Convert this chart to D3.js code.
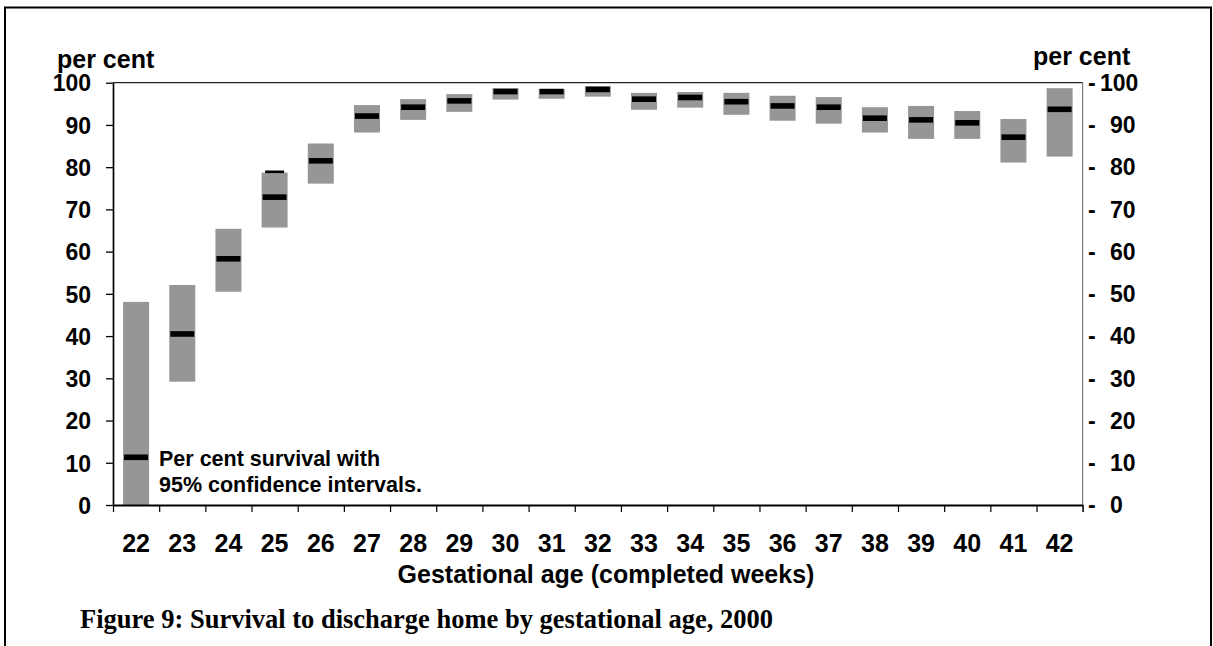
<!DOCTYPE html>
<html>
<head>
<meta charset="utf-8">
<script src="https://cdn.jsdelivr.net/npm/d3@7"></script>
<style>
  html, body { margin: 0; padding: 0; background: #fff; }
  svg { display: block; }
</style>
</head>
<body>
<svg id="chart" width="1213" height="646"></svg>
<script>
// ---- data ----
const ages = [22,23,24,25,26,27,28,29,30,31,32,33,34,35,36,37,38,39,40,41,42];
const survival = [11.3,40.5,58.3,72.9,81.5,92.1,94.2,95.7,97.9,97.9,98.4,96.1,96.5,95.5,94.5,94.2,91.6,91.2,90.5,87.1,93.7];
const lowerCI  = [0,29.2,50.5,65.7,76.1,88.2,91.2,93.1,96.0,96.2,96.7,93.6,94.1,92.4,91.0,90.3,88.2,86.7,86.7,81.1,82.5];
const upperCI  = [48.1,52.1,65.4,78.7,85.6,94.7,96.1,97.3,98.7,98.5,99.2,97.6,97.8,97.6,96.9,96.6,94.2,94.5,93.3,91.4,98.7];
const yTicks = [0,10,20,30,40,50,60,70,80,90,100];
const extraMarks = [{age:25, value:78.9}];

(function () {
const FONT = "'Liberation Sans', Arial, Helvetica, sans-serif";
const SERIF = "'Liberation Serif', 'Times New Roman', Times, serif";

const svg = d3.select('#chart');
const pLeft = 113, pRight = 1082.7, pTop = 82.7, pBottom = 505;

const x = d3.scaleBand().domain(ages).range([pLeft, pRight]).paddingInner(0.437).paddingOuter(0.2185);
const xi = d3.scaleLinear().domain([0, ages.length]).range([pLeft, pRight]);
const y = d3.scaleLinear().domain([0, 100]).range([pBottom, pTop]);

// outer frame
svg.append('rect').attr('x', 5).attr('y', 7.5).attr('width', 1206).attr('height', 660)
  .attr('fill', 'none').attr('stroke', '#000').attr('stroke-width', 2);

// bars (CI)
svg.append('g').selectAll('rect').data(ages).join('rect')
  .attr('x', d => x(d))
  .attr('width', x.bandwidth())
  .attr('y', (d,i) => y(upperCI[i]))
  .attr('height', (d,i) => y(lowerCI[i]) - y(upperCI[i]))
  .attr('fill', '#969696');

// point estimates
svg.append('g').selectAll('rect').data(ages).join('rect')
  .attr('x', d => x(d) + 1)
  .attr('width', x.bandwidth() - 2)
  .attr('y', (d,i) => y(survival[i]) - 2.8)
  .attr('height', 5.6)
  .attr('fill', '#000');

svg.append('g').selectAll('rect').data(extraMarks).join('rect')
  .attr('x', d => x(d.age) + 3.5)
  .attr('width', x.bandwidth() - 7)
  .attr('y', d => y(d.value) - 1.3)
  .attr('height', 2.6)
  .attr('fill', '#000');

// top border & right axis line
svg.append('line').attr('x1', pLeft).attr('x2', pRight).attr('y1', pTop).attr('y2', pTop)
  .attr('stroke', '#222').attr('stroke-width', 1.3);
svg.append('line').attr('x1', pRight).attr('x2', pRight).attr('y1', pTop).attr('y2', pBottom + 7)
  .attr('stroke', '#666').attr('stroke-width', 1);

// left axis
const gl = svg.append('g').attr('transform', `translate(${pLeft},0)`)
  .call(d3.axisLeft(y).tickValues(yTicks).tickSize(7).tickPadding(15).tickSizeOuter(0));
gl.select('.domain').attr('stroke', '#000').attr('stroke-width', 1.7);
gl.selectAll('.tick line').attr('stroke', '#000').attr('stroke-width', 1.3);
gl.selectAll('.tick text').attr('font-family', FONT).attr('font-size', 23).attr('font-weight', 'bold')
  .attr('fill', '#000').attr('dy', '0.36em');

// right axis labels ("- NN")
const gr = svg.append('g');
gr.selectAll('text.dash').data(yTicks).join('text').attr('class', 'dash')
  .attr('x', 1088).attr('y', d => y(d)).attr('dy', '0.36em')
  .attr('font-family', FONT).attr('font-size', 23).attr('font-weight', 'bold').text('-');
gr.selectAll('text.num').data(yTicks).join('text').attr('class', 'num')
  .attr('x', d => d >= 100 ? 1100 : 1110).attr('y', d => y(d)).attr('dy', '0.36em')
  .attr('font-family', FONT).attr('font-size', 23).attr('font-weight', 'bold').text(d => d);

// bottom axis: boundary ticks
const gb = svg.append('g').attr('transform', `translate(0,${pBottom})`)
  .call(d3.axisBottom(xi).tickValues(d3.range(0, ages.length + 1)).tickSize(7).tickFormat('').tickSizeOuter(0));
gb.select('.domain').attr('stroke', '#000').attr('stroke-width', 2);
gb.selectAll('.tick line').attr('stroke', '#000').attr('stroke-width', 1.2);

// bottom labels
const gbl = svg.append('g').attr('transform', `translate(0,${pBottom})`)
  .call(d3.axisBottom(x).tickSize(0));
gbl.select('.domain').remove();
gbl.selectAll('.tick text').attr('font-family', FONT).attr('font-size', 25).attr('font-weight', 'bold')
  .attr('fill', '#000').attr('y', 47).attr('dy', 0);

// units
svg.append('text').attr('x', 57).attr('y', 67.5).attr('font-family', FONT).attr('font-size', 25)
  .attr('font-weight', 'bold').text('per cent');
svg.append('text').attr('x', 1033).attr('y', 65).attr('font-family', FONT).attr('font-size', 25)
  .attr('font-weight', 'bold').text('per cent');

// x axis title
svg.append('text').attr('x', 606).attr('y', 583).attr('text-anchor', 'middle')
  .attr('font-family', FONT).attr('font-size', 25).attr('font-weight', 'bold')
  .text('Gestational age (completed weeks)');

// legend note
svg.append('text').attr('x', 159).attr('y', 465.5).attr('font-family', FONT).attr('font-size', 21.5)
  .attr('font-weight', 'bold').text('Per cent survival with');
svg.append('text').attr('x', 159).attr('y', 491.5).attr('font-family', FONT).attr('font-size', 21.5)
  .attr('font-weight', 'bold').text('95% confidence intervals.');

// caption
svg.append('text').attr('x', 80).attr('y', 627.5).attr('font-family', SERIF).attr('font-size', 26.5)
  .attr('font-weight', 'bold').text('Figure 9: Survival to discharge home by gestational age, 2000');
})();
</script>
</body>
</html>
